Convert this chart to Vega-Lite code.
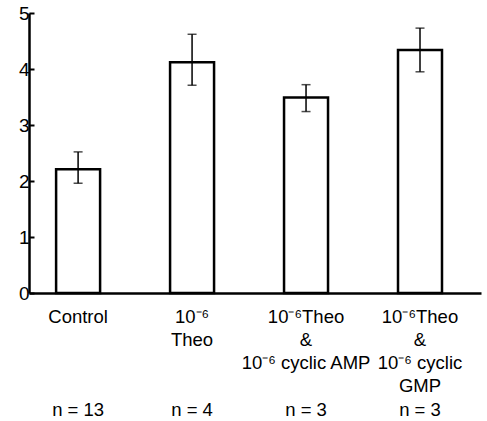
{
  "$schema": "https://vega.github.io/schema/vega-lite/v6.json",
  "width": 452,
  "height": 280,
  "autosize": {"type": "none"},
  "padding": {"left": 29, "top": 13, "right": 6, "bottom": 128},
  "background": "white",
  "config": {
    "view": {"stroke": null},
    "axis": {
      "grid": false,
      "domainColor": "black",
      "domainWidth": 2.5,
      "labelColor": "black",
      "labelFont": "Liberation Sans",
      "labelFontSize": 18.5,
      "tickColor": "black"
    }
  },
  "data": {
    "values": [
      {"group": "Control#n = 13", "mean": 2.21, "lo": 1.96, "hi": 2.52},
      {"group": "10⁻⁶|Theo#n = 4", "mean": 4.12, "lo": 3.71, "hi": 4.62},
      {"group": "10⁻⁶Theo|&|10⁻⁶ cyclic AMP#n = 3", "mean": 3.49, "lo": 3.24, "hi": 3.72},
      {"group": "10⁻⁶Theo|&|10⁻⁶ cyclic|GMP#n = 3", "mean": 4.34, "lo": 3.95, "hi": 4.73}
    ]
  },
  "resolve": {"axis": {"x": "independent"}},
  "layer": [
    {
      "mark": {"type": "bar", "fill": "white", "stroke": "black", "strokeWidth": 2.5},
      "encoding": {
        "x": {
          "field": "group",
          "type": "nominal",
          "sort": null,
          "title": null,
          "scale": {"paddingInner": 0.614, "paddingOuter": 0.29, "align": 0.41},
          "axis": {
            "orient": "bottom",
            "labelAngle": 0,
            "ticks": false,
            "labelPadding": 14,
            "labelBaseline": "top",
            "labelLineHeight": 23.3,
            "labelExpr": "split(split(datum.label, '#')[0], '|')",
            "labelLimit": 0
          }
        },
        "y": {
          "field": "mean",
          "type": "quantitative",
          "title": null,
          "scale": {"domain": [0, 5], "nice": false},
          "axis": {"values": [0, 1, 2, 3, 4, 5], "tickSize": -5, "tickWidth": 2, "labelPadding": 5, "labelFontSize": 19}
        }
      }
    },
    {
      "mark": {"type": "errorbar", "color": "black", "ticks": {"size": 9, "thickness": 1.5}, "rule": {"strokeWidth": 1.5}},
      "encoding": {
        "x": {
          "field": "group",
          "type": "nominal",
          "sort": null,
          "title": null,
          "axis": {
            "orient": "bottom",
            "labelAngle": 0,
            "ticks": false,
            "domain": false,
            "labelPadding": 107,
            "labelBaseline": "top",
            "labelExpr": "split(datum.label, '#')[1]",
            "labelLimit": 0
          }
        },
        "y": {"field": "lo", "type": "quantitative", "title": null},
        "y2": {"field": "hi"}
      }
    }
  ]
}
